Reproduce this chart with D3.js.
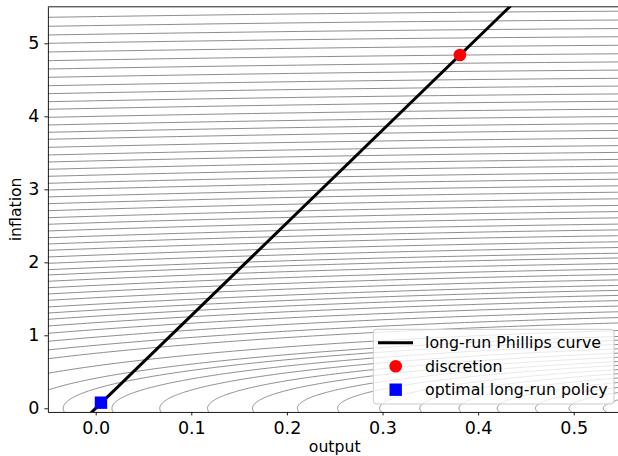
<!DOCTYPE html>
<html>
<head>
<meta charset="utf-8">
<script src="https://cdn.jsdelivr.net/npm/d3@7/dist/d3.min.js"></script>
<style>
  body { margin: 0; background: #fff; }
  text { font-family: "DejaVu Sans", sans-serif; }
</style>
</head>
<body>
<div id="chart"></div>
<script>
// Chart size
let svgWidth = 618;
let svgHeight = 456;

// Axis limits and ticks
let outputLimits = [-0.05, 0.55];
let inflationLimits = [-0.05, 5.5];
let outputTicks = [0.0, 0.1, 0.2, 0.3, 0.4, 0.5];
let inflationTicks = [0, 1, 2, 3, 4, 5];

// Loss function: weight * (output - target)^2 + inflation^2
let lossWeight = 1.13;
let outputTarget = 0.92;

// Indifference curves:
// inflation where each curve meets the left edge (output = -0.05)
let leftEdgeInflation = [5.356, 5.233, 5.114, 5.0, 4.881, 4.762, 4.648, 4.534, 4.419, 4.31,
  4.2, 4.096, 3.986, 3.881, 3.781, 3.685, 3.575, 3.47, 3.374, 3.274, 3.178, 3.082, 2.99,
  2.895, 2.803, 2.707, 2.611, 2.521, 2.429, 2.337, 2.251, 2.164, 2.073, 1.986, 1.899,
  1.826, 1.74, 1.652, 1.566, 1.479, 1.388, 1.305, 1.219, 1.127, 1.027, 0.918, 0.799,
  0.679, 0.48, 0.25];
// output where the remaining curves touch zero inflation
let vertexOutput = [-0.034, 0.017, 0.067, 0.117, 0.164, 0.211, 0.253, 0.297, 0.339,
  0.380, 0.420, 0.460, 0.495, 0.531];

// Long-run Phillips curve (two end points)
let lrpcOutput = [-0.01, 0.45];
let lrpcInflation = [-0.127, 5.715];

// Points
let discretion = { output: 0.381, inflation: 4.84 };
let optimal = { output: 0.0055, inflation: 0.077 };

let legendLabels = ["long-run Phillips curve", "discretion", "optimal long-run policy"];

// Scales
let x = d3.scaleLinear().domain(outputLimits).range([47.9, 621.5]);
let y = d3.scaleLinear().domain(inflationLimits).range([411.95, 6.8]);

let svg = d3.select("#chart")
  .append("svg")
  .attr("width", svgWidth)
  .attr("height", svgHeight);

svg.append("clipPath")
  .attr("id", "plot-clip")
  .append("rect")
  .attr("x", x(outputLimits[0]))
  .attr("y", y(inflationLimits[1]))
  .attr("width", x(outputLimits[1]) - x(outputLimits[0]))
  .attr("height", y(inflationLimits[0]) - y(inflationLimits[1]));

let plot = svg.append("g").attr("clip-path", "url(#plot-clip)");

// levels of the loss for each curve
let levels = leftEdgeInflation.map(p => lossWeight * Math.pow(outputLimits[0] - outputTarget, 2) + p * p)
  .concat(vertexOutput.map(v => lossWeight * Math.pow(v - outputTarget, 2)));

// trace one level set as an arc of the ellipse
function levelCurve(level) {
  let a = Math.sqrt(level / lossWeight);
  let b = Math.sqrt(level);
  let start = Math.asin(Math.max(-1, -0.1 / b));
  return d3.range(0, 301).map(i => {
    let t = start + (Math.PI / 2 - start) * i / 300;
    return [outputTarget - a * Math.cos(t), b * Math.sin(t)];
  });
}

let line = d3.line()
  .x(d => x(d[0]))
  .y(d => y(d[1]));

plot.selectAll("path.contour")
  .data(levels)
  .enter()
  .append("path")
  .attr("class", "contour")
  .attr("d", d => line(levelCurve(d)))
  .attr("fill", "none")
  .attr("stroke", "#808080")
  .attr("stroke-width", 0.9);

// long-run Phillips curve
plot.append("path")
  .datum(d3.zip(lrpcOutput, lrpcInflation))
  .attr("d", line)
  .attr("fill", "none")
  .attr("stroke", "black")
  .attr("stroke-width", 3);

// markers
plot.append("circle")
  .attr("cx", x(discretion.output))
  .attr("cy", y(discretion.inflation))
  .attr("r", 6.3)
  .attr("fill", "red");

plot.append("rect")
  .attr("x", x(optimal.output) - 6.2)
  .attr("y", y(optimal.inflation) - 6.2)
  .attr("width", 12.4)
  .attr("height", 12.4)
  .attr("fill", "blue");

// axes
let xAxis = svg.append("g")
  .attr("transform", `translate(0, ${y(inflationLimits[0])})`)
  .call(d3.axisBottom(x).tickValues(outputTicks).tickFormat(d3.format(".1f"))
    .tickSize(3.5).tickSizeOuter(0).tickPadding(6));

let yAxis = svg.append("g")
  .attr("transform", `translate(${x(outputLimits[0])}, 0)`)
  .call(d3.axisLeft(y).tickValues(inflationTicks).tickFormat(d3.format("d"))
    .tickSize(3.5).tickSizeOuter(0).tickPadding(5));

[xAxis, yAxis].forEach(g => {
  g.selectAll("text").style("font-size", "17.5px").attr("fill", "black")
    .style("font-family", "DejaVu Sans");
  g.selectAll("line").attr("stroke", "black").attr("stroke-width", 0.9);
  g.select(".domain").attr("stroke", "black").attr("stroke-width", 0.9);
});

// top spine
svg.append("line")
  .attr("x1", x(outputLimits[0]))
  .attr("x2", x(outputLimits[1]))
  .attr("y1", y(inflationLimits[1]))
  .attr("y2", y(inflationLimits[1]))
  .attr("stroke", "black")
  .attr("stroke-width", 0.9);

// axis labels
svg.append("text")
  .attr("x", (x(outputLimits[0]) + x(outputLimits[1])) / 2)
  .attr("y", 452)
  .attr("text-anchor", "middle")
  .style("font-size", "15.7px")
  .text("output");

svg.append("text")
  .attr("transform", `translate(20.5, ${(y(inflationLimits[0]) + y(inflationLimits[1])) / 2}) rotate(-90)`)
  .attr("text-anchor", "middle")
  .style("font-size", "15.7px")
  .text("inflation");

// legend
let legend = svg.append("g");

legend.append("rect")
  .attr("x", 373.3)
  .attr("y", 329.3)
  .attr("width", 240.7)
  .attr("height", 74.7)
  .attr("rx", 3)
  .attr("fill", "white")
  .attr("fill-opacity", 0.8)
  .attr("stroke", "#cccccc")
  .attr("stroke-width", 1);

let rowY = [342.7, 366.3, 389.7];

legend.append("line")
  .attr("x1", 378)
  .attr("x2", 413)
  .attr("y1", rowY[0])
  .attr("y2", rowY[0])
  .attr("stroke", "black")
  .attr("stroke-width", 3);

legend.append("circle")
  .attr("cx", 395.7)
  .attr("cy", rowY[1])
  .attr("r", 6.3)
  .attr("fill", "red");

legend.append("rect")
  .attr("x", 395.7 - 6.2)
  .attr("y", rowY[2] - 6.2)
  .attr("width", 12.4)
  .attr("height", 12.4)
  .attr("fill", "blue");

legend.selectAll("text.legend-label")
  .data(legendLabels)
  .enter()
  .append("text")
  .attr("class", "legend-label")
  .attr("x", 425)
  .attr("y", (d, i) => rowY[i] + 5.6)
  .style("font-size", "15.8px")
  .text(d => d);
</script>
</body>
</html>
